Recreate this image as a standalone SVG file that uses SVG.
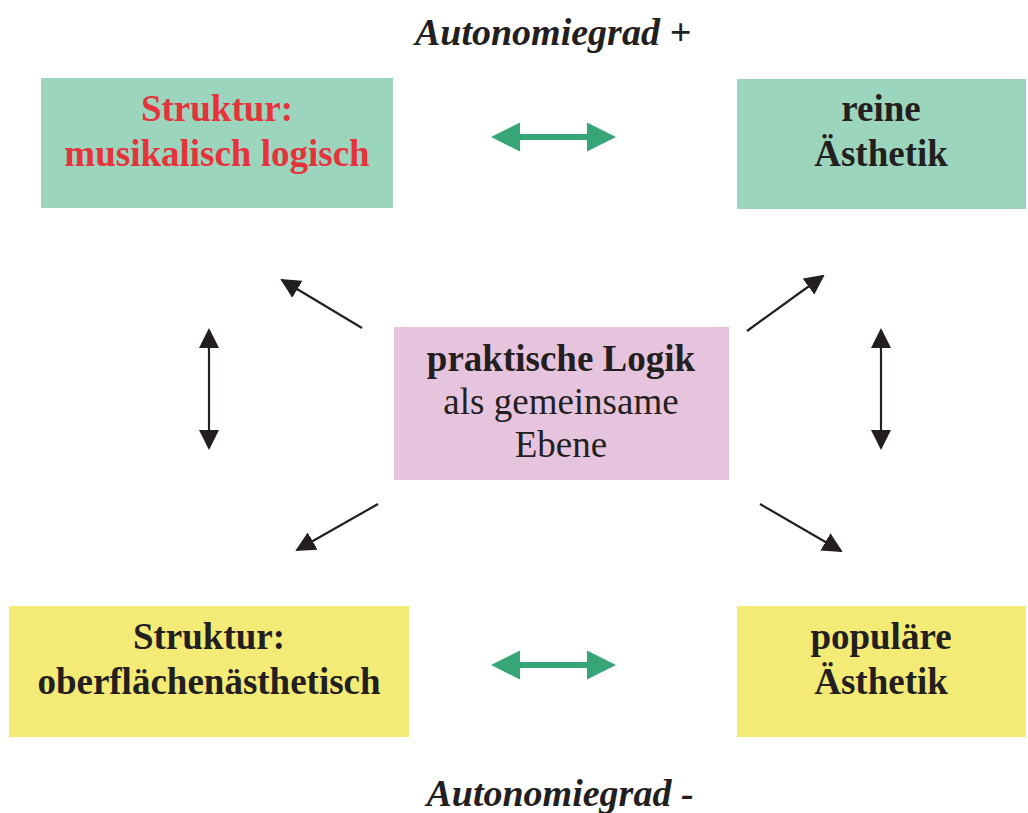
<svg xmlns="http://www.w3.org/2000/svg" width="1028" height="813" viewBox="0 0 1028 813">
<defs>
<style>
.t{font-family:"Liberation Serif","Times New Roman",serif;font-size:37px;fill:#231f20;text-anchor:middle}
.b{font-weight:bold}
.i{font-style:italic;font-weight:bold;font-size:38px}
.red{fill:#e5333b}
.teal{fill:#9cd5bd}
.pink{fill:#e7c4dd}
.yel{fill:#f3eb75}
.blk{stroke:#231f20;stroke-width:2.2;fill:none}
.grn{stroke:#36a578;stroke-width:6;fill:none}
</style>
<marker id="ak" viewBox="0 0 20 20" refX="18" refY="10" markerWidth="20" markerHeight="20" markerUnits="userSpaceOnUse" orient="auto-start-reverse">
<path d="M0,0 L20,10 L0,20 Z" fill="#231f20"/>
</marker>
<marker id="ag" viewBox="0 0 29 29" refX="1" refY="14.5" markerWidth="29" markerHeight="29" markerUnits="userSpaceOnUse" orient="auto-start-reverse">
<path d="M0,0 L29,14.5 L0,29 Z" fill="#36a578"/>
</marker>
</defs>
<rect width="1028" height="813" fill="#ffffff"/>
<text class="t i" x="553" y="45">Autonomiegrad +</text>
<text class="t i" x="560" y="806">Autonomiegrad -</text>
<g id="struktur-musikalisch">
<rect class="teal" x="41" y="78" width="352" height="130"/>
<text class="t b red" x="217" y="121">Struktur:</text>
<text class="t b red" x="217" y="166">musikalisch logisch</text>
</g>
<g id="reine-aesthetik">
<rect class="teal" x="737" y="79" width="289" height="130"/>
<text class="t b" x="881" y="121">reine</text>
<text class="t b" x="881" y="166">Ästhetik</text>
</g>
<g id="praktische-logik">
<rect class="pink" x="394" y="327" width="335" height="153"/>
<text class="t b" x="561" y="371">praktische Logik</text>
<text class="t" x="561" y="414">als gemeinsame</text>
<text class="t" x="561" y="457">Ebene</text>
</g>
<g id="struktur-oberflaeche">
<rect class="yel" x="9" y="606" width="400" height="131"/>
<text class="t b" x="209" y="649">Struktur:</text>
<text class="t b" x="209" y="694">oberflächenästhetisch</text>
</g>
<g id="populaere-aesthetik">
<rect class="yel" x="737" y="606" width="289" height="131"/>
<text class="t b" x="881" y="649">populäre</text>
<text class="t b" x="881" y="694">Ästhetik</text>
</g>
<g id="connectors">
<line class="grn" x1="519" y1="137" x2="588" y2="137" marker-start="url(#ag)" marker-end="url(#ag)"/>
<line class="grn" x1="519" y1="665" x2="588" y2="665" marker-start="url(#ag)" marker-end="url(#ag)"/>
<line class="blk" x1="362" y1="328" x2="282" y2="280" marker-end="url(#ak)"/>
<line class="blk" x1="747" y1="331" x2="823" y2="276" marker-end="url(#ak)"/>
<line class="blk" x1="378" y1="504" x2="297" y2="550" marker-end="url(#ak)"/>
<line class="blk" x1="760" y1="504" x2="841" y2="551" marker-end="url(#ak)"/>
<line class="blk" x1="209" y1="330" x2="209" y2="448" marker-start="url(#ak)" marker-end="url(#ak)"/>
<line class="blk" x1="881" y1="330" x2="881" y2="448" marker-start="url(#ak)" marker-end="url(#ak)"/>
</g>
</svg>
